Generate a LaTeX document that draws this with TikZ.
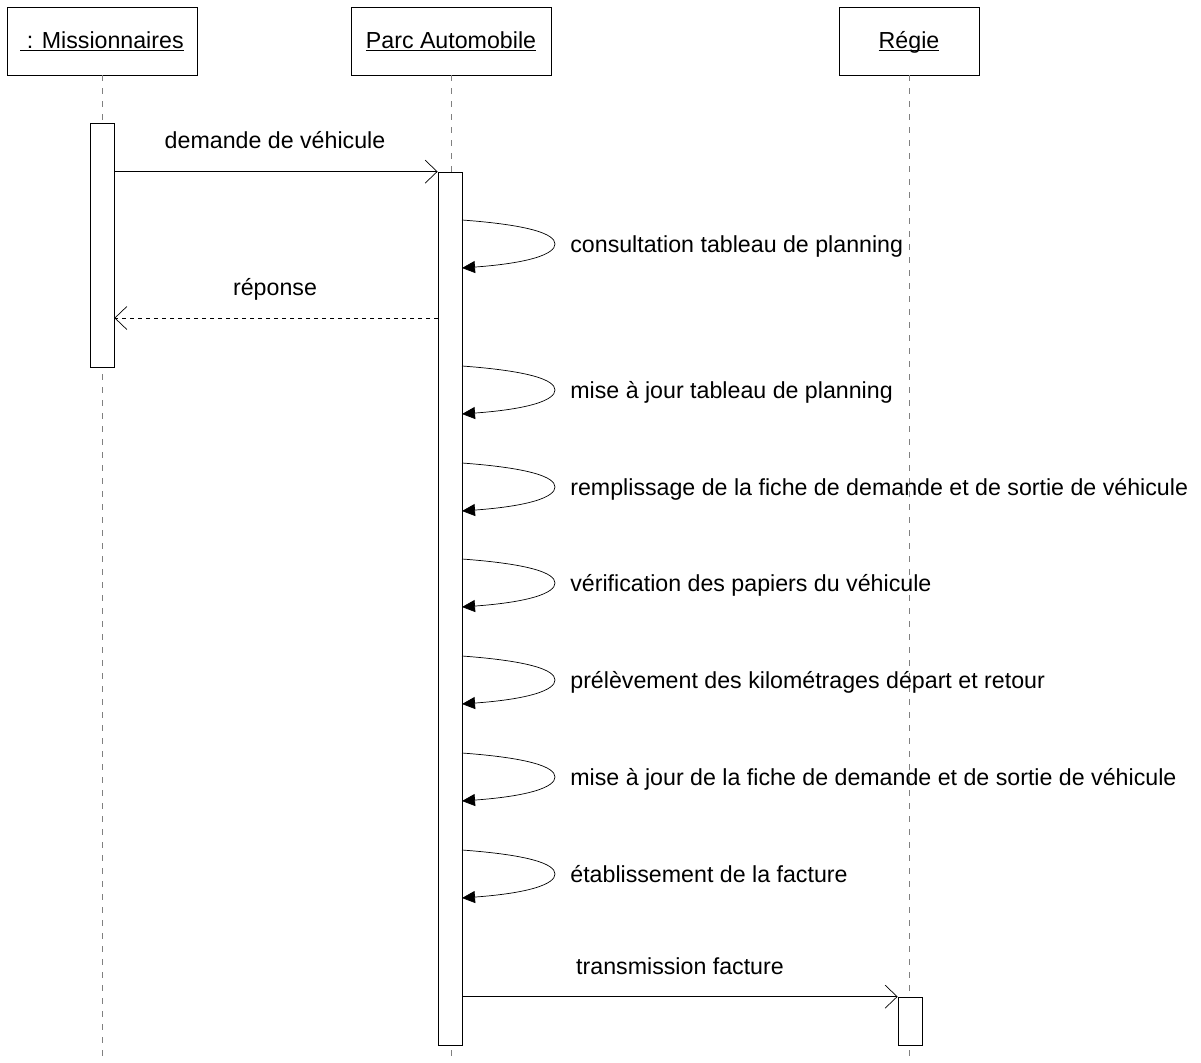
\documentclass[tikz,border=0pt]{standalone}
\usepackage{fontspec}
\setmainfont{Liberation Sans}
\usetikzlibrary{arrows.meta}
\tikzset{
headbox/.style={draw, thin, minimum height=13.6mm, inner sep=0pt, text height=8pt, text depth=0pt, font=\fontsize{13.2}{16}\selectfont},
actbar/.style={draw, thin, fill=white, minimum width=4.8mm, inner sep=0pt},
lifeline/.style={draw=gray, thin, dash pattern=on 1.2mm off 1.4mm},
call/.style={thin, -{Straight Barb[length=2.4mm,width=4.6mm]}},
reply/.style={call, dash pattern=on 0.8mm off 0.8mm},
selfcall/.style={thin, -{Triangle[length=2.6mm,width=2.4mm]}},
msglabel/.style={font=\fontsize{13.2}{16}\selectfont, inner sep=0pt}
}
\newcommand{\objname}[1]{\underline{\smash{#1}}}
\newcommand{\selfmsg}[3]{%
\coordinate (#1-out) at (462,#2-24);
\coordinate (#1-tip) at (555,#2);
\coordinate (#1-in) at (462,#2+24);
\draw[selfcall] (#1-out) .. controls (530,#2-19) and (555,#2-10) .. (#1-tip)
  .. controls (555,#2+10) and (530,#2+19) .. (#1-in);
\node[msglabel, anchor=base west] (#1) at (570,#2+8) {#3};
}

\begin{document}
\begin{tikzpicture}[x=0.2mm,y=-0.2mm]
\useasboundingbox (0,0) rectangle (1201,1062);

% objects
\node[headbox, minimum width=38mm] (miss) at (102,41) {\objname{ : Missionnaires}};
\node[headbox, minimum width=40mm] (parc) at (451,41) {\objname{Parc Automobile}};
\node[headbox, minimum width=28mm] (regie) at (909,41) {\objname{Régie}};

\coordinate (missend) at (102,1062);
\coordinate (parcend) at (451,1062);
\coordinate (regieend) at (909,1062);

\draw[lifeline] (miss.south) -- (missend);
\draw[lifeline] (parc.south) -- (parcend);
\draw[lifeline] (regie.south) -- (regieend);

% activations
\node[actbar, minimum height=48.8mm] (missbar) at (102,245) {};
\node[actbar, minimum height=174.6mm] (parcbar) at (450,608.5) {};
\node[actbar, minimum height=9.6mm] (regiebar) at (910,1021) {};

% messages
\draw[call] (missbar.east |- parcbar.north) -- (parcbar.north west);
\node[msglabel, anchor=base] (demande) at (275,148) {demande de véhicule};

\coordinate (repstart) at (438,318);
\draw[reply] (repstart) -- (missbar.east |- repstart);
\node[msglabel, anchor=base] (reponse) at (275,295) {réponse};

\selfmsg{consult}{244}{consultation tableau de planning}
\selfmsg{majplan}{390}{mise à jour tableau de planning}
\selfmsg{remplir}{487}{remplissage de la fiche de demande et de sortie de véhicule}
\selfmsg{verif}{583}{vérification des papiers du véhicule}
\selfmsg{prelev}{680}{prélèvement des kilométrages départ et retour}
\selfmsg{majfiche}{777}{mise à jour de la fiche de demande et de sortie de véhicule}
\selfmsg{facture}{874}{établissement de la facture}

\draw[call] (parcbar.east |- regiebar.north) -- (regiebar.north west);
\node[msglabel, anchor=base] (transmission) at (680,974) {transmission facture};

\end{tikzpicture}
\end{document}
